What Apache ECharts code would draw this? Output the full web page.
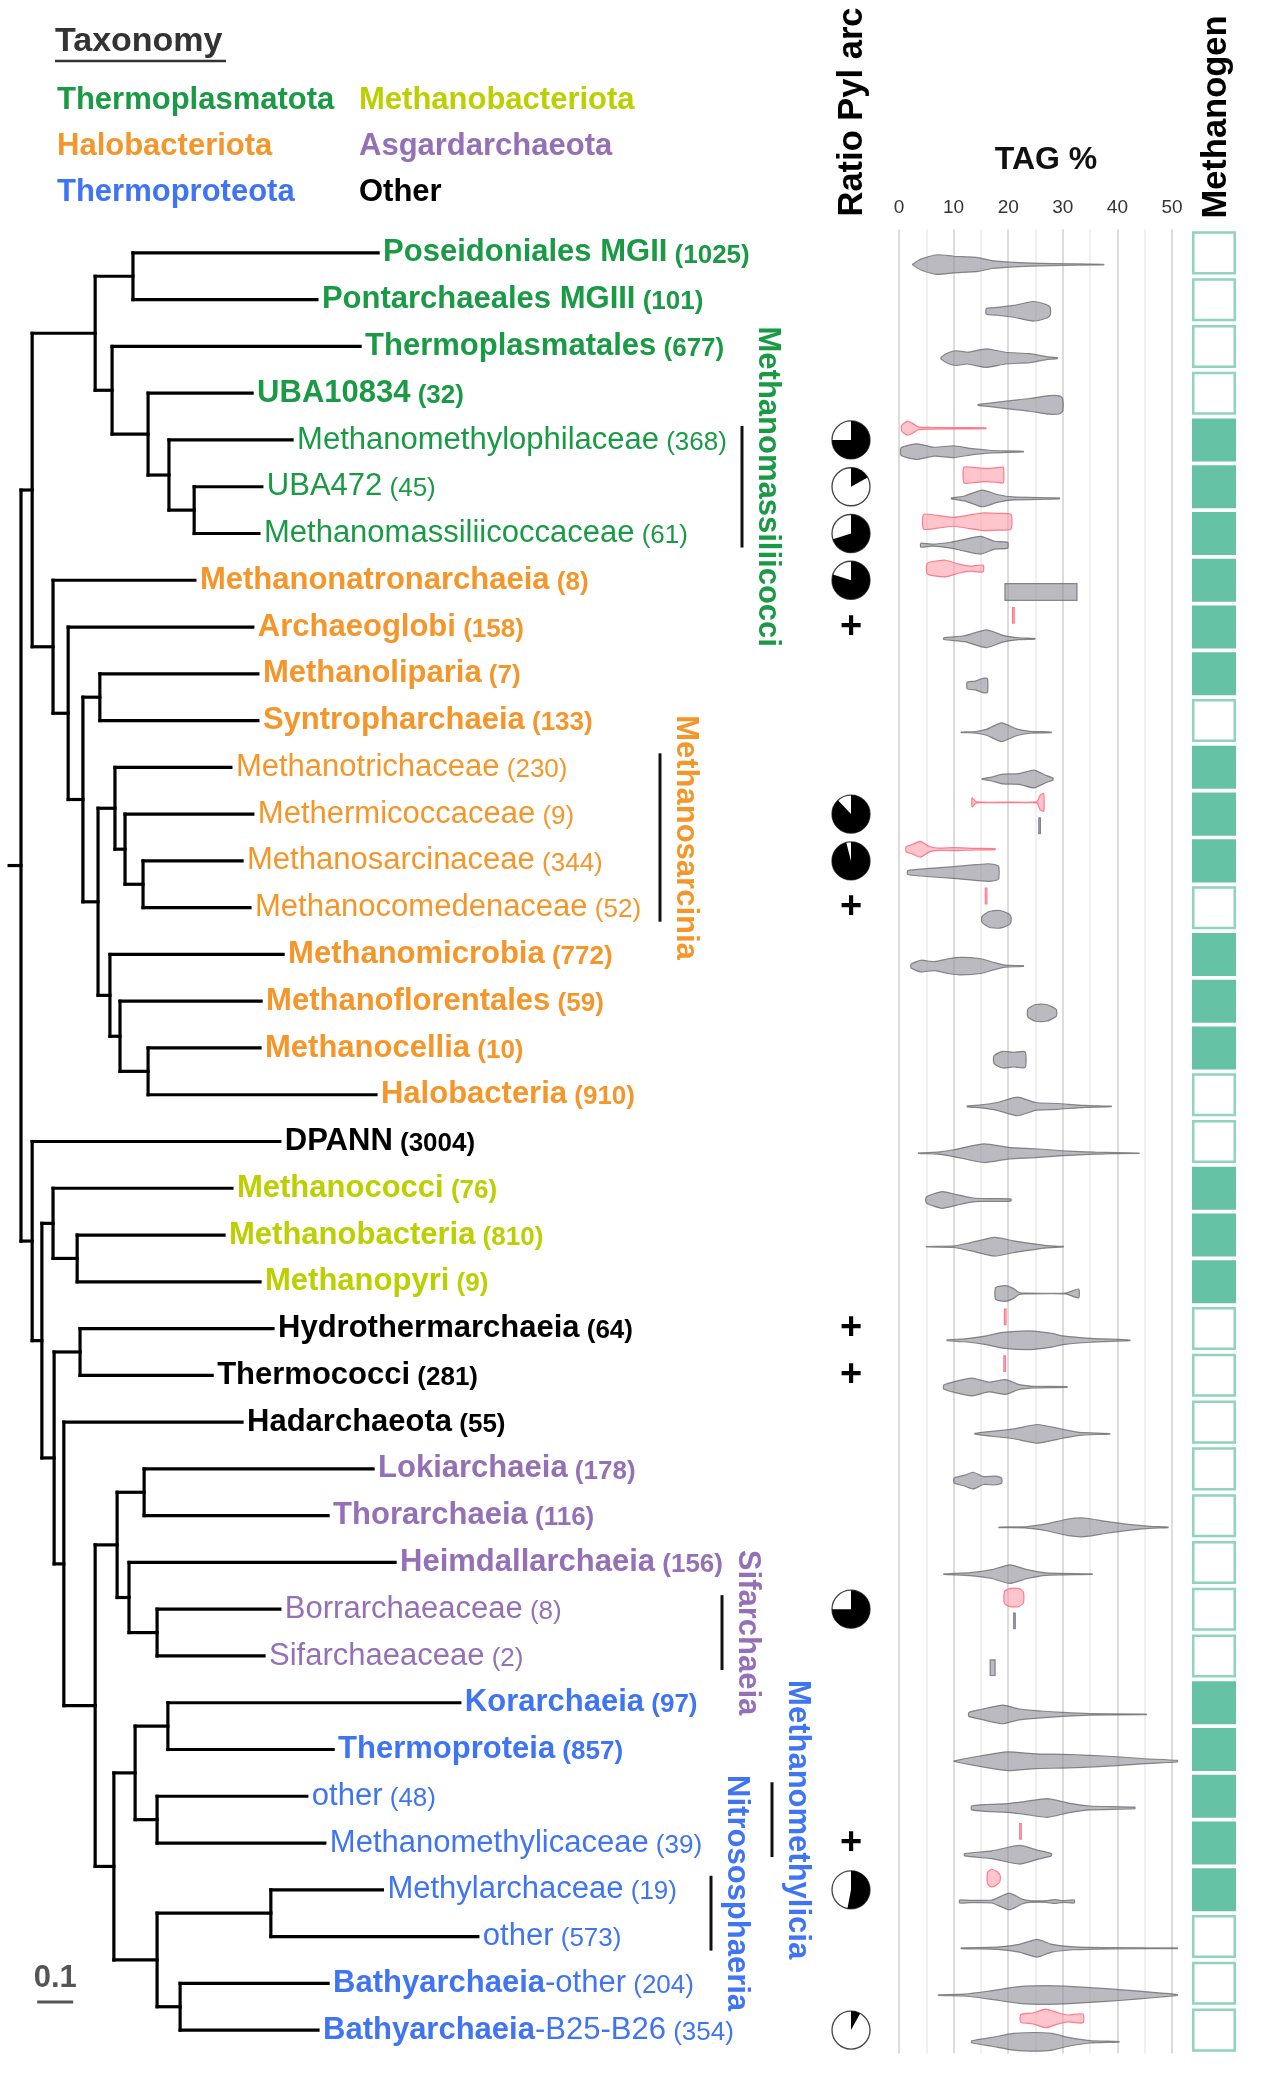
<!DOCTYPE html>
<html><head><meta charset="utf-8">
<script src="https://cdn.jsdelivr.net/npm/echarts/dist/echarts.min.js"></script>
<style>html,body{margin:0;padding:0;background:#fff}#c{width:1266px;height:2078px}</style>
</head><body><div id="c"></div>
<script>
// ---------------- DATA ----------------
const legendNames = ['Thermoplasmatota','Halobacteriota','Thermoproteota','Methanobacteriota','Asgardarchaeota','Other'];
const groupColors = ['#1b9a45','#f5962a','#3f74f2','#bccf00','#9470b6','#000000'];

const leafNames = ['Poseidoniales MGII','Pontarchaeales MGIII','Thermoplasmatales','UBA10834','Methanomethylophilaceae','UBA472','Methanomassiliicoccaceae','Methanonatronarchaeia','Archaeoglobi','Methanoliparia','Syntropharchaeia','Methanotrichaceae','Methermicoccaceae','Methanosarcinaceae','Methanocomedenaceae','Methanomicrobia','Methanoflorentales','Methanocellia','Halobacteria','DPANN','Methanococci','Methanobacteria','Methanopyri','Hydrothermarchaeia','Thermococci','Hadarchaeota','Lokiarchaeia','Thorarchaeia','Heimdallarchaeia','Borrarchaeaceae','Sifarchaeaceae','Korarchaeia','Thermoproteia','other','Methanomethylicaceae','Methylarchaceae','other','Bathyarchaeia','Bathyarchaeia'];
const leafSuffix = ['','','','','','','','','','','','','','','','','','','','','','','','','','','','','','','','','','','','','','-other','-B25-B26'];
const leafCounts = [1025,101,677,32,368,45,61,8,158,7,133,230,9,344,52,772,59,10,910,3004,76,810,9,64,281,55,178,116,156,8,2,97,857,48,39,19,573,204,354];
const leafBold = [1,1,1,1,0,0,0,1,1,1,1,0,0,0,0,1,1,1,1,1,1,1,1,1,1,1,1,1,1,0,0,1,1,0,0,0,0,1,1];
const leafGroup = [0,0,0,0,0,0,0,1,1,1,1,1,1,1,1,1,1,1,1,5,3,3,3,5,5,5,4,4,4,4,4,2,2,2,2,2,2,2,2];
// branch-length distance of each tip from the root
const leafTip = [0.992,0.822,0.942,0.642,0.753,0.669,0.661,0.483,0.644,0.658,0.658,0.583,0.644,0.614,0.636,0.728,0.667,0.664,0.986,0.719,0.586,0.564,0.664,0.700,0.531,0.614,0.978,0.853,1.039,0.719,0.675,1.219,0.867,0.794,0.844,1.004,1.269,0.853,0.825];
// internal nodes: [id, child1, child2, distance from root]; numbers = leaf rows
const treeNodes = [
 ['A',1,2,0.311],['B5',6,7,0.481],['B4',5,'B5',0.411],['B3',4,'B4',0.353],['B2',3,'B3',0.253],['TP','A','B2',0.206],
 ['L',18,19,0.353],['K',17,'L',0.275],['J',16,'K',0.247],['I',14,15,0.339],['H',13,'I',0.289],['G',12,'H',0.261],
 ['F','G','J',0.214],['E',10,11,0.219],['D','E','F',0.172],['C',9,'D',0.131],['C0',8,'C',0.089],['M','TP','C0',0.031],
 ['R',22,23,0.156],['Q',21,'R',0.089],['T',24,25,0.164],['X',27,28,0.342],['Z',30,31,0.378],['Y',29,'Z',0.300],
 ['W','X','Y',0.267],['AC',32,33,0.408],['AD',34,35,0.378],['AB','AC','AD',0.317],['AF',36,37,0.694],['AG',38,39,0.442],
 ['AE','AF','AG',0.378],['AA','AB','AE',0.258],['V','W','AA',0.206],['U',26,'V',0.119],['S','T','U',0.092],
 ['P','Q','S',0.058],['O',20,'P',0.031],['root','M','O',0]
];
const rootStub = -0.033;
const scaleBarLen = 0.1;
const scaleBarLabel = '0.1';

const cladeNames = ['Methanomassiliicocci','Methanosarcinia','Sifarchaeia','Methanomethylicia','Nitrososphaeria'];
const cladeFirst = [5,12,30,34,36];
const cladeLast = [7,15,31,35,37];
const cladeGroup = [0,1,4,2,2];

const pieRows = [5,6,7,8,13,14,30,36,39];
const pieBlack = [0.75,0.17,0.70,0.80,0.88,0.96,0.75,0.53,0.08];
const plusRows = [9,15,24,25,35];

const methanogen = [0,0,0,0,1,1,1,1,1,1,0,1,1,1,0,1,1,1,0,0,1,1,1,0,0,0,0,0,0,0,0,1,1,1,1,1,0,0,0];

const tagTicks = [0,10,20,30,40,50];
// violin outlines: [TAG %, relative half-width]
const tagGrayShapes = [
 [[2.5,0.03],[4,0.55],[7,1],[10,0.85],[14.5,0.7],[17,0.4],[22,0.2],[28,0.1],[37.5,0.03]],
 [[16,0.3],[18,0.4],[21,0.6],[24.5,1],[27,0.7],[27.7,0.4]],
 [[7.7,0.1],[9,0.55],[10.5,0.75],[12.5,0.6],[16,0.95],[19.5,0.6],[24,0.45],[27,0.15],[29,0.05]],
 [[14.5,0.05],[17,0.2],[20,0.4],[24,0.65],[27.5,0.95],[29.5,0.9],[30,0.6]],
 [[0.4,0.4],[3.3,0.8],[6.4,0.45],[10,0.6],[13.5,0.3],[17,0.12],[22.8,0.03]],
 [[9.6,0.05],[12,0.25],[15.3,0.85],[18,0.4],[21,0.15],[29.4,0.05]],
 [[4,0.2],[6,0.1],[9.5,0.3],[12,0.6],[15,0.9],[17.5,0.4],[19.9,0.3]],
 [[19.4,0.85],[32.6,0.85]],
 [[8.2,0.08],[12,0.3],[16,0.9],[19,0.35],[22,0.1],[24.9,0.04]],
 [[12.5,0.35],[14,0.45],[15.5,0.75],[16.2,0.7]],
 [[11.4,0.03],[14,0.08],[16,0.3],[18.8,0.95],[21.5,0.35],[24,0.1],[27.9,0.03]],
 [[15.2,0.03],[17,0.2],[19,0.5],[22,0.55],[24.7,0.9],[27,0.35],[28.2,0.1]],
 [[25.6,0.8],[25.9,0.8]],
 [[1.6,0.2],[5,0.4],[10,0.6],[14,0.8],[16.5,0.9],[18,0.75],[18.3,0.55]],
 [[15.2,0.3],[16.5,0.8],[18.5,0.9],[20,0.6],[20.5,0.3]],
 [[2.2,0.2],[4,0.6],[6.5,0.45],[9,0.75],[11.5,0.9],[15,0.75],[17.5,0.35],[19.5,0.1],[22.8,0.04]],
 [[23.6,0.4],[25,0.85],[27,0.85],[28.8,0.35]],
 [[17.4,0.4],[19,0.85],[21,0.75],[23.1,0.8]],
 [[12.5,0.05],[15,0.15],[18,0.4],[21.7,0.95],[25,0.4],[29,0.3],[34,0.1],[38.9,0.03]],
 [[3.6,0.03],[7,0.1],[10,0.35],[15.6,0.95],[20,0.6],[25,0.45],[30,0.25],[36,0.1],[44,0.02]],
 [[5,0.3],[7.9,0.85],[10.5,0.55],[13,0.25],[15,0.15],[20.5,0.12]],
 [[5,0.02],[10,0.08],[13,0.4],[17.5,0.95],[21,0.6],[24,0.35],[27,0.12],[30.1,0.03]],
 [[17.7,0.6],[19.5,0.8],[21,0.5],[22,0.1],[23,0.04],[30.5,0.04],[32.9,0.45]],
 [[8.8,0.05],[12,0.15],[16,0.45],[19,0.8],[24,0.95],[28,0.7],[30,0.45],[35,0.2],[42.3,0.03]],
 [[8.2,0.2],[10.5,0.6],[13.4,0.9],[16.5,0.5],[19.5,0.75],[22,0.25],[25,0.08],[30.8,0.04]],
 [[13.9,0.04],[17,0.25],[21,0.5],[25.4,0.95],[30,0.45],[33,0.15],[38.6,0.03]],
 [[10.1,0.25],[12,0.55],[13.6,0.85],[15.5,0.4],[17.5,0.45],[18.8,0.25]],
 [[18.3,0.03],[23,0.06],[27,0.35],[31,0.85],[34,0.95],[38,0.6],[42,0.3],[46,0.1],[49.3,0.03]],
 [[8.2,0.03],[13,0.15],[17,0.45],[20.3,0.95],[23.5,0.45],[27,0.12],[35.4,0.03]],
 [[21,0.8],[21.3,0.8]],
 [[16.7,0.8],[17.6,0.8]],
 [[12.8,0.2],[15,0.5],[19,0.95],[22,0.55],[26,0.35],[30,0.2],[35,0.08],[45.3,0.03]],
 [[10.1,0.03],[14,0.45],[19.8,0.95],[25,0.75],[30,0.7],[35,0.6],[40,0.45],[45,0.25],[51,0.08]],
 [[13.3,0.2],[16,0.35],[20,0.45],[23,0.65],[27.2,0.95],[31,0.5],[35,0.2],[43.2,0.08]],
 [[12,0.12],[17,0.4],[22.1,0.95],[25.5,0.45],[27.9,0.12]],
 [[11.1,0.15],[13,0.12],[17,0.15],[20.2,0.85],[22.5,0.25],[24,0.08],[27,0.08],[28.5,0.2],[30,0.08],[32.1,0.15]],
 [[11.4,0.04],[18,0.12],[22,0.4],[25.3,0.9],[28,0.4],[32,0.15],[40,0.06],[51,0.03]],
 [[7.2,0.03],[12,0.1],[17,0.45],[22,0.85],[27,0.95],[32,0.85],[38,0.65],[44,0.4],[48,0.2],[51,0.05]],
 [[13.3,0.1],[17,0.45],[21,0.85],[25,0.95],[28,0.85],[31,0.45],[35,0.12],[40.3,0.03]]
];
const tagPinkRows = [5,6,7,8,9,13,14,15,24,25,30,35,36,39];
const tagPinkShapes = [
 [[0.5,0.3],[1.5,0.7],[2.5,0.5],[3.5,0.15],[6,0.08],[10,0.06],[15.9,0.05]],
 [[11.9,0.8],[14,0.75],[16,0.68],[18,0.75],[19.1,0.8]],
 [[4.5,0.75],[7,0.65],[10,0.45],[13,0.7],[15.5,0.9],[18,0.85],[20.5,0.75]],
 [[5.2,0.55],[8.5,0.85],[11,0.45],[13,0.25],[15.4,0.35]],
 [[20.8,0.8],[21.1,0.8]],
 [[13.4,0.45],[14.2,0.05],[25.2,0.05],[25.8,0.7],[26.5,0.9]],
 [[1.3,0.25],[2.5,0.5],[3.9,0.8],[5.5,0.3],[7,0.12],[10,0.15],[14,0.08],[17.6,0.05]],
 [[15.8,0.8],[16.1,0.8]],
 [[19.3,0.8],[19.6,0.8]],
 [[19.2,0.8],[19.5,0.8]],
 [[19.3,0.6],[20.2,0.9],[22,0.9],[22.8,0.55]],
 [[22.1,0.8],[22.4,0.8]],
 [[16.2,0.55],[16.9,0.9],[18,0.65],[18.5,0.3]],
 [[22.3,0.4],[24.5,0.55],[26.9,0.95],[29.5,0.5],[31,0.35],[33.7,0.45]]
];

// ---------------- LAYOUT / STYLE ----------------
const FONT = "'Liberation Sans', Arial, Helvetica, sans-serif";
const GTOP = 229.5, GH = 1824;
const VH = 0.21;          // max violin half width (rows)
const GRAY_OFF = 0.25, PINK_OFF = -0.25;
const cladeBarX = [742, 660, 722, 772, 711];
const cladeTextDX = 26;
const cladeTextShift = [0, 0, 0, 0, -0.43];

// ---------------- BUILD TREE SEGMENTS ----------------
const nodeY = {}, nodeX = {};
leafTip.forEach((d, i) => { nodeY[i + 1] = i + 1; nodeX[i + 1] = d; });
const treeSegs = [];
treeNodes.forEach(([id, a, b, d]) => {
  nodeY[id] = (nodeY[a] + nodeY[b]) / 2; nodeX[id] = d;
  treeSegs.push([d, nodeY[a], d, nodeY[b]]);
  treeSegs.push([d, nodeY[a], nodeX[a], nodeY[a]]);
  treeSegs.push([d, nodeY[b], nodeX[b], nodeY[b]]);
});
treeSegs.push([rootStub, nodeY['root'], 0, nodeY['root']]);

const chart = echarts.init(document.getElementById('c'), null, {renderer: 'canvas'});

function violinRender(shapes, off, fill, stroke) {
  return function (params, api) {
    const row = api.value(1), k = shapes[api.value(2)];
    const pts = [];
    k.forEach(p => pts.push(api.coord([p[0], row + off - p[1] * VH])));
    for (let i = k.length - 1; i >= 0; i--) pts.push(api.coord([k[i][0], row + off + k[i][1] * VH]));
    return {type: 'polygon', shape: {points: pts, smooth: k.length > 2 ? 0.2 : 0},
      style: {fill: fill, stroke: stroke, lineWidth: 1.2}};
  };
}

const legendGraphics = [];
legendNames.forEach((n, i) => {
  const col = Math.floor(i / 3), r = i % 3;
  legendGraphics.push({type: 'text', x: col === 0 ? 57 : 359, y: 100 + r * 46,
    style: {text: n, fill: groupColors[i], font: 'bold 31px ' + FONT, verticalAlign: 'middle'}});
});

const option = {
  animation: false,
  backgroundColor: '#ffffff',
  grid: [
    {left: 21, top: GTOP, width: 360, height: GH},
    {left: 829, top: GTOP, width: 44, height: GH},
    {left: 899, top: GTOP, width: 273, height: GH},
    {left: 1192, top: GTOP, width: 44, height: GH}
  ],
  xAxis: [
    {type: 'value', gridIndex: 0, min: 0, max: 1, show: false},
    {type: 'value', gridIndex: 1, min: 0, max: 1, show: false},
    {type: 'value', gridIndex: 2, min: 0, max: 50, interval: 5, position: 'top',
      axisLine: {show: false}, axisTick: {show: false},
      axisLabel: {formatter: v => tagTicks.indexOf(v) >= 0 ? String(v) : '', fontSize: 19, color: '#333', margin: 12, fontFamily: FONT},
      splitLine: {show: true, lineStyle: {color: ['#d0d0d0', '#ebebeb'], width: 1.5}}},
    {type: 'value', gridIndex: 3, min: 0, max: 1, show: false}
  ],
  yAxis: [0, 1, 2, 3].map(i => ({type: 'value', gridIndex: i, min: 0.5, max: 39.5, inverse: true, show: false})),
  graphic: [
    {type: 'text', x: 55, y: 42, style: {text: 'Taxonomy', fill: '#333', font: 'bold 34px ' + FONT, verticalAlign: 'middle'}},
    {type: 'line', shape: {x1: 55, y1: 61, x2: 226, y2: 61}, style: {stroke: '#333', lineWidth: 2.5}},
    ...legendGraphics,
    {type: 'text', x: 852, y: 112, rotation: Math.PI / 2,
      style: {text: 'Ratio Pyl arc', fill: '#000', font: 'bold 34.5px ' + FONT, align: 'center', verticalAlign: 'middle'}},
    {type: 'text', x: 1216, y: 117, rotation: Math.PI / 2,
      style: {text: 'Methanogen', fill: '#000', font: 'bold 34.5px ' + FONT, align: 'center', verticalAlign: 'middle'}},
    {type: 'text', x: 1046, y: 160,
      style: {text: 'TAG %', fill: '#111', font: 'bold 32px ' + FONT, align: 'center', verticalAlign: 'middle'}}
  ],
  series: [
    // tree branches
    {type: 'custom', coordinateSystem: 'cartesian2d', xAxisIndex: 0, yAxisIndex: 0, silent: true,
      data: treeSegs,
      renderItem: (p, api) => {
        const a = api.coord([api.value(0), api.value(1)]), b = api.coord([api.value(2), api.value(3)]);
        return {type: 'line', shape: {x1: a[0], y1: a[1], x2: b[0], y2: b[1]},
          style: {stroke: '#000', lineWidth: 3.2, lineCap: 'square'}};
      }},
    // leaf labels
    {type: 'custom', coordinateSystem: 'cartesian2d', xAxisIndex: 0, yAxisIndex: 0, silent: true,
      data: leafTip.map((d, i) => [d, i + 1, i]),
      renderItem: (p, api) => {
        const i = api.value(2), c = api.coord([api.value(0), api.value(1)]);
        const col = groupColors[leafGroup[i]];
        const b = leafBold[i] ? 'bold' : 'normal';
        const cb = (leafBold[i] && !leafSuffix[i]) ? 'bold' : 'normal';
        let t = '{n|' + leafNames[i] + '}';
        if (leafSuffix[i]) t += '{s|' + leafSuffix[i] + '}';
        t += '{c| (' + leafCounts[i] + ')}';
        return {type: 'text', x: c[0] + 5, y: c[1],
          style: {text: t, verticalAlign: 'middle', align: 'left',
            rich: {
              n: {fontFamily: FONT, fontSize: 31, fontWeight: b, fill: col, verticalAlign: 'bottom'},
              s: {fontFamily: FONT, fontSize: 31, fontWeight: 'normal', fill: col, verticalAlign: 'bottom'},
              c: {fontFamily: FONT, fontSize: 26, fontWeight: cb, fill: col, verticalAlign: 'bottom'}
            }}};
      }},
    // scale bar
    {type: 'custom', coordinateSystem: 'cartesian2d', xAxisIndex: 0, yAxisIndex: 0, silent: true,
      data: [[0.045, 38.4, 0.045 + scaleBarLen]],
      renderItem: (p, api) => {
        const a = api.coord([api.value(0), api.value(1)]), b = api.coord([api.value(2), api.value(1)]);
        return {type: 'group', children: [
          {type: 'line', shape: {x1: a[0], y1: a[1], x2: b[0], y2: b[1]}, style: {stroke: '#555', lineWidth: 3}},
          {type: 'text', x: (a[0] + b[0]) / 2, y: a[1] - 24,
            style: {text: scaleBarLabel, fill: '#555', font: 'bold 31px ' + FONT, align: 'center', verticalAlign: 'middle'}}
        ]};
      }},
    // clade bars & labels
    {type: 'custom', coordinateSystem: 'cartesian2d', xAxisIndex: 0, yAxisIndex: 0, silent: true,
      data: cladeNames.map((n, i) => [0, cladeFirst[i], cladeLast[i], i]),
      renderItem: (p, api) => {
        const i = api.value(3);
        const f = api.value(1), l = api.value(2);
        const y1 = api.coord([0, f - 0.3])[1], y2 = api.coord([0, l + 0.3])[1];
        const ty = api.coord([0, (f + l) / 2 + cladeTextShift[i]])[1];
        const x = cladeBarX[i];
        return {type: 'group', children: [
          {type: 'line', shape: {x1: x, y1: y1, x2: x, y2: y2}, style: {stroke: '#111', lineWidth: 3}},
          {type: 'text', x: x + cladeTextDX, y: ty, rotation: -Math.PI / 2,
            style: {text: cladeNames[i], fill: groupColors[cladeGroup[i]], font: 'bold 31px ' + FONT, align: 'center', verticalAlign: 'middle'}}
        ]};
      }},
    // pies
    {type: 'custom', coordinateSystem: 'cartesian2d', xAxisIndex: 1, yAxisIndex: 1, silent: true,
      data: pieRows.map((r, i) => [0.5, r, pieBlack[i]]),
      renderItem: (p, api) => {
        const c = api.coord([api.value(0), api.value(1)]), f = api.value(2);
        const R = 19, s = -Math.PI / 2;
        return {type: 'group', children: [
          {type: 'circle', shape: {cx: c[0], cy: c[1], r: R}, style: {fill: '#fff', stroke: '#444', lineWidth: 1.3}},
          {type: 'sector', shape: {cx: c[0], cy: c[1], r0: 0, r: R, startAngle: s, endAngle: s + 2 * Math.PI * f, clockwise: true},
            style: {fill: '#000'}}
        ]};
      }},
    // plus signs
    {type: 'custom', coordinateSystem: 'cartesian2d', xAxisIndex: 1, yAxisIndex: 1, silent: true,
      data: plusRows.map(r => [0.5, r]),
      renderItem: (p, api) => {
        const c = api.coord([api.value(0), api.value(1)]);
        return {type: 'text', x: c[0], y: c[1],
          style: {text: '+', fill: '#000', font: 'bold 38px ' + FONT, align: 'center', verticalAlign: 'middle'}};
      }},
    // gray violins
    {type: 'custom', coordinateSystem: 'cartesian2d', xAxisIndex: 2, yAxisIndex: 2, silent: true,
      data: tagGrayShapes.map((k, i) => [k[0][0], i + 1, i]),
      renderItem: violinRender(tagGrayShapes, GRAY_OFF, 'rgba(140,140,150,0.6)', 'rgba(100,100,110,0.75)')},
    // pink violins
    {type: 'custom', coordinateSystem: 'cartesian2d', xAxisIndex: 2, yAxisIndex: 2, silent: true,
      data: tagPinkRows.map((r, i) => [tagPinkShapes[i][0][0], r, i]),
      renderItem: violinRender(tagPinkShapes, PINK_OFF, 'rgba(255,150,162,0.55)', 'rgba(255,105,125,0.85)')},
    // methanogen boxes
    {type: 'custom', coordinateSystem: 'cartesian2d', xAxisIndex: 3, yAxisIndex: 3, silent: true,
      data: methanogen.map((m, i) => [0, i + 1, m]),
      renderItem: (p, api) => {
        const r = api.value(1), m = api.value(2);
        const a = api.coord([0, r - 0.46]), b = api.coord([1, r + 0.46]);
        if (m) return {type: 'rect', shape: {x: a[0], y: a[1], width: b[0] - a[0], height: b[1] - a[1]}, style: {fill: '#66c2a5'}};
        return {type: 'rect', shape: {x: a[0] + 1.25, y: a[1] + 1.25, width: b[0] - a[0] - 2.5, height: b[1] - a[1] - 2.5},
          style: {fill: '#fff', stroke: '#8fd4bb', lineWidth: 2.5}};
      }}
  ]
};
chart.setOption(option);
</script>
</body></html>
